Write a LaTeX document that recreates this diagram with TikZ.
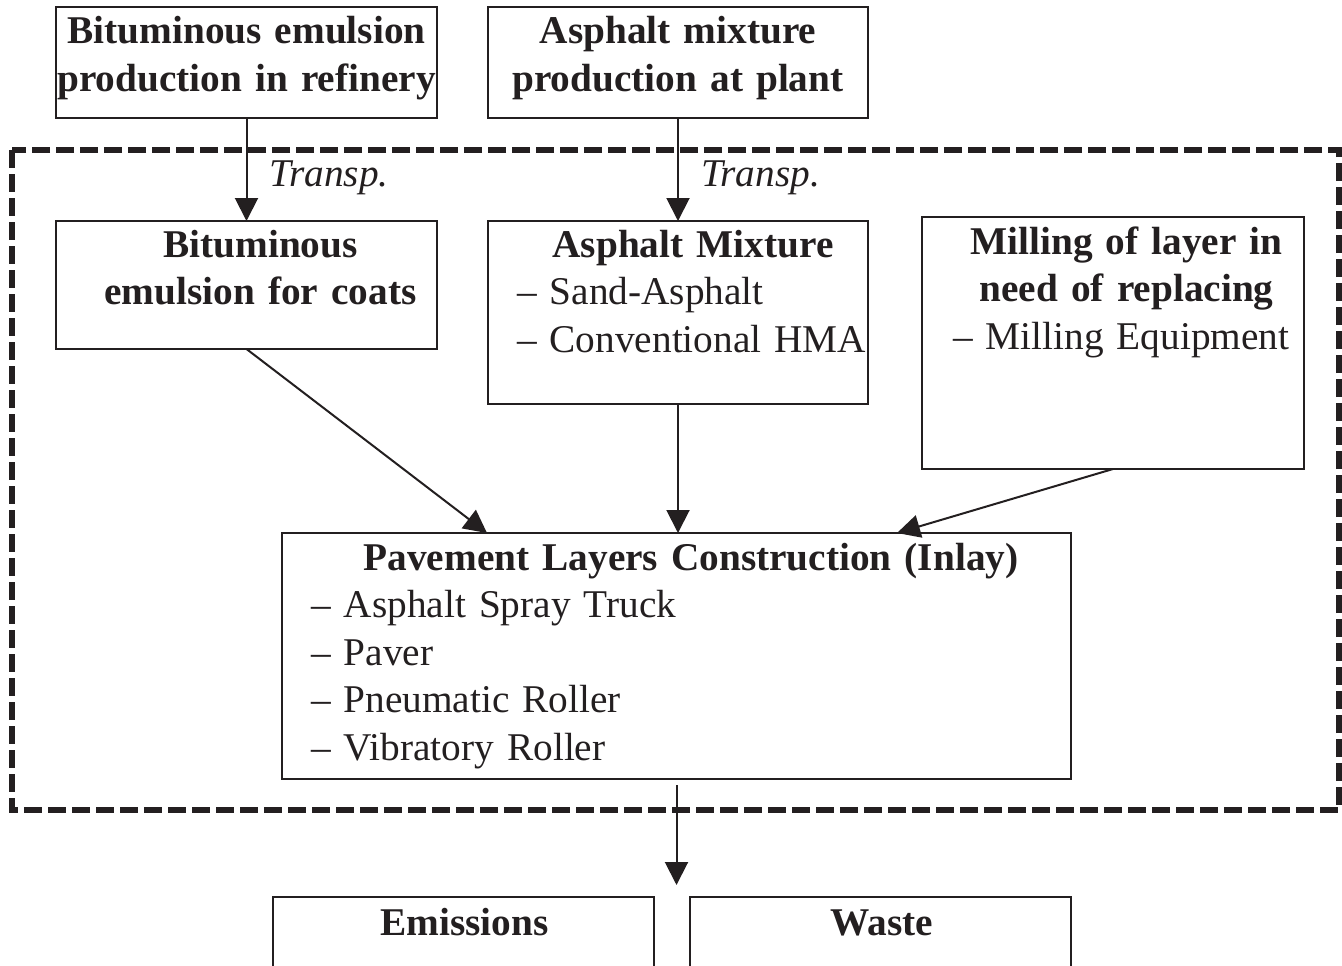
\documentclass[tikz,border=0pt]{standalone}
\usepackage{fontspec}
\setmainfont{Liberation Serif}
\usepackage{xcolor}
\usepackage{tikz}
\usetikzlibrary{calc, arrows.meta, positioning}
\definecolor{ink}{RGB}{35,31,32}
\newcommand{\chartfont}{\fontsize{39.3}{47.5}\selectfont}
\newcommand{\boxtitle}[2][0pt]{{\centering\leftskip=#1 plus 1fil\bfseries #2\par}}
\newcommand{\boxitems}[2]{{\raggedright\leftskip=#1\relax #2\par}}

\begin{document}
\begin{tikzpicture}[x=1pt, y=-1pt, color=ink, font=\chartfont]
    % Block styles
    \tikzstyle{block} = [rectangle, draw, line width=2pt, inner sep=0pt, outer sep=0pt, anchor=north west, text width=381pt]
    \tikzstyle{flow} = [-{Triangle[length=23pt, width=23pt]}, line width=2pt]
    \tikzstyle{transp} = [font=\chartfont\itshape, inner sep=0pt, right=22pt]
    \tikzstyle{frame} = [line width=5.5pt, dash pattern=on 18pt off 6pt]
    % Page
    \useasboundingbox (0,0) rectangle (1342,966);
    \clip (0,0) rectangle (1342,966);
    % Production outside the site
    \node[block, text height=37pt, text depth=74pt] (refinery) at (56,7) {\boxtitle{Bituminous emulsion\\production in refinery}};
    \node[block, text width=380pt, text height=37pt, text depth=74pt, right=51pt of refinery] (plant) {\boxtitle{Asphalt mixture\\production at plant}};
    % Site
    \node[block, text height=36pt, text depth=92pt, below=103pt of refinery] (coats) {\boxtitle[28pt]{Bituminous\\emulsion for coats}};
    \node[block, text width=380pt, text height=36pt, text depth=147pt, below=103pt of plant] (mixture) {\boxtitle[30pt]{Asphalt Mixture}\boxitems{29pt}{\textendash{} Sand-Asphalt\\\textendash{} Conventional HMA}};
    \node[block, text width=382pt, text height=37pt, text depth=215pt] (milling) at (922,217) {\boxtitle[27pt]{Milling of layer in\\need of replacing}\boxitems{31pt}{\textendash{} Milling Equipment}};
    \node[block, text width=789pt, text height=37pt, text depth=209pt] (pavement) at (282,533) {\boxtitle[29pt]{Pavement Layers Construction (Inlay)}\boxitems{29pt}{\textendash{} Asphalt Spray Truck\\\textendash{} Paver\\\textendash{} Pneumatic Roller\\\textendash{} Vibratory Roller}};
    % Outputs
    \node[block, text height=38pt, text depth=80pt] (emissions) at (273,897) {\boxtitle[2pt]{Emissions}};
    \node[block, text height=38pt, text depth=80pt, right=36pt of emissions] (waste) {\boxtitle[3pt]{Waste}};
    \coordinate (outlet) at (pavement.south |- emissions.north);
    % System boundary
    \draw[frame] (12,150) rectangle (1339,810);
    % Connections
    \draw[flow] (refinery) -- (coats) node[transp, pos=0.58] {Transp.};
    \draw[flow] (plant) -- (mixture) node[transp, pos=0.58] {Transp.};
    \draw[flow] (coats.south) -- ([xshift=205pt]pavement.north west);
    \draw[flow] (mixture.south) -- (mixture.south |- pavement.north);
    \draw[flow] (milling.south) -- ([xshift=615pt]pavement.north west);
    \draw[flow] ([yshift=-6pt]pavement.south) -- ([yshift=12pt]outlet);
\end{tikzpicture}
\end{document}
